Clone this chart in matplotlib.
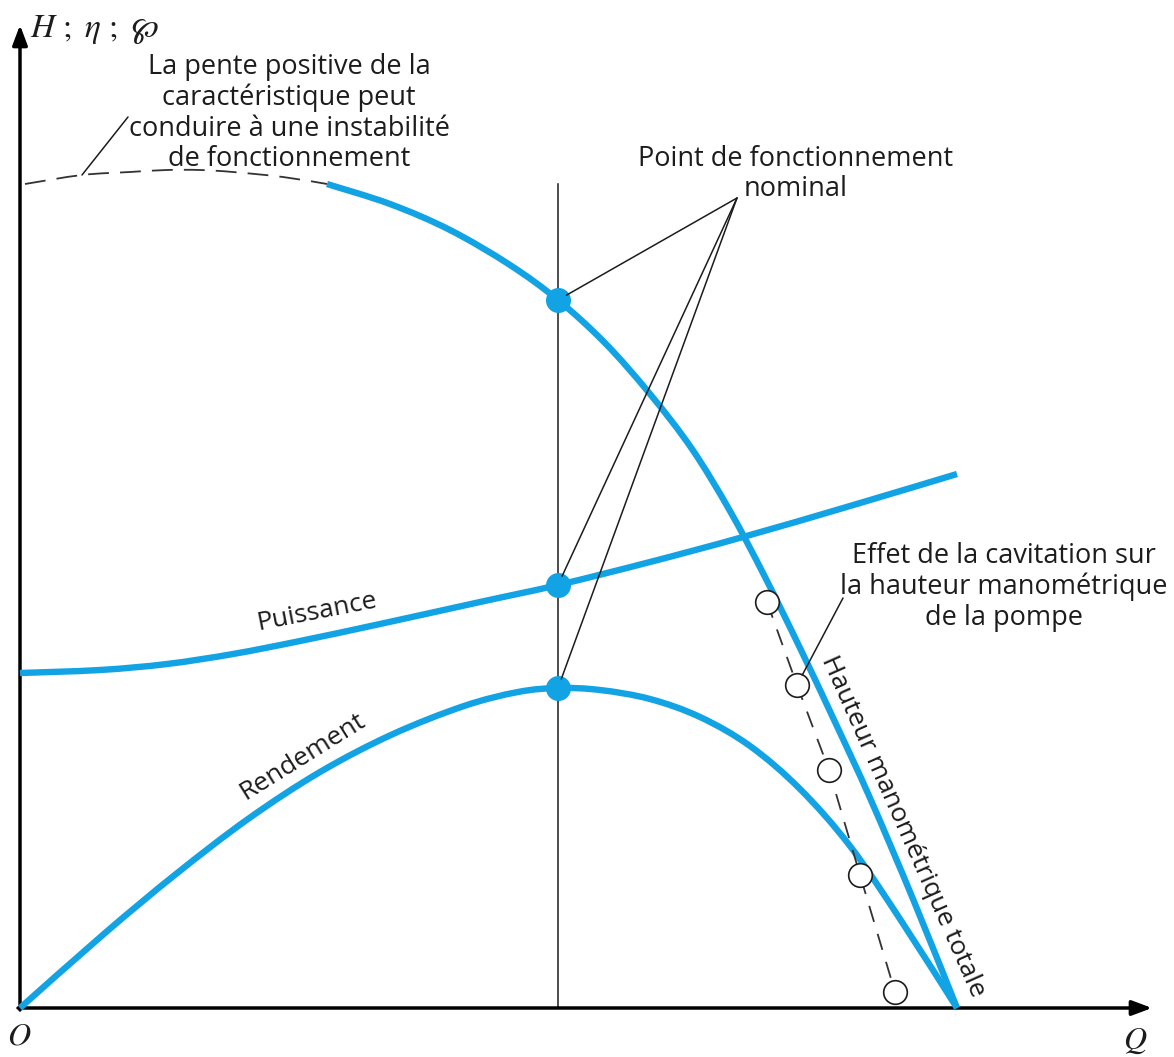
import matplotlib
matplotlib.use("Agg")
import matplotlib.pyplot as plt
from matplotlib.path import Path
from matplotlib.patches import PathPatch

plt.rcParams['mathtext.fontset'] = 'stix'
plt.rcParams['lines.scale_dashes'] = False

# ---------------- data (Q, H units) ----------------
# Head curve: unstable (dashed) rising part and the solid characteristic
q_head_dash = [0.05, 0.62, 1.10, 1.47, 1.80, 2.13, 2.63, 3.07]
h_head_dash = [8.24, 8.33, 8.36, 8.38, 8.38, 8.36, 8.31, 8.24]

q_head = [3.07, 3.70, 4.30, 4.90, 5.38, 5.85, 6.30, 6.72, 7.10, 7.45,
          7.80, 8.15, 8.50, 8.93, 9.37]
h_head = [8.24, 8.04, 7.78, 7.43, 7.08, 6.65, 6.14, 5.59, 4.97, 4.31,
          3.60, 2.86, 2.10, 1.09, 0.00]

# Power curve
q_power = [0.00, 0.80, 1.47, 2.13, 2.80, 3.60, 4.60, 5.38, 6.30, 7.23, 8.30, 9.37]
h_power = [3.35, 3.38, 3.44, 3.54, 3.67, 3.84, 4.06, 4.23, 4.46, 4.71, 5.02, 5.34]

# Efficiency curve
q_eff = [0.00, 0.85, 1.56, 2.28, 3.00, 3.72, 4.44, 4.98, 5.38,
         5.80, 6.30, 6.80, 7.30, 7.80, 8.30, 8.80, 9.37]
h_eff = [0.00, 0.75, 1.34, 1.89, 2.36, 2.735, 3.02, 3.16, 3.20,
         3.18, 3.09, 2.91, 2.62, 2.19, 1.62, 0.89, 0.00]

# Cavitation effect points
q_cav = [7.47, 7.77, 8.09, 8.40, 8.75]
h_cav = [4.06, 3.23, 2.38, 1.33, 0.16]

# Nominal operating point
q_nom = 5.38
h_nom = [7.08, 4.23, 3.20]   # head, power, efficiency

BLUE = '#12A3E4'
INK = '#1c1c1c'
FONT = 'Open Sans'


def P(x, y):
    """pixel position of the reference -> data coordinates (for text placement)"""
    return ((x - 20) / 100.0, (1008 - y) / 100.0)


def smooth_path(xs, ys):
    """Bezier path passing through every data point (Catmull-Rom rendering)."""
    pts = list(zip(xs, ys))
    n = len(pts)
    verts = [pts[0]]
    codes = [Path.MOVETO]
    for i in range(n - 1):
        p0 = pts[i - 1] if i > 0 else pts[i]
        p1 = pts[i]
        p2 = pts[i + 1]
        p3 = pts[i + 2] if i + 2 < n else pts[i + 1]
        c1 = (p1[0] + (p2[0] - p0[0]) / 6.0, p1[1] + (p2[1] - p0[1]) / 6.0)
        c2 = (p2[0] - (p3[0] - p1[0]) / 6.0, p2[1] - (p3[1] - p1[1]) / 6.0)
        verts += [c1, c2, p2]
        codes += [Path.CURVE4] * 3
    return Path(verts, codes)


def curve(ax, xs, ys, **kw):
    patch = PathPatch(smooth_path(xs, ys), fill=False, **kw)
    ax.add_patch(patch)
    return patch


fig = plt.figure(figsize=(11.74, 10.57), dpi=100)
ax = fig.add_axes([0, 0, 1, 1])
ax.set_xlim(-0.20, 11.54)
ax.set_ylim(-0.49, 10.08)
ax.axis('off')

# axes with arrows
ax.annotate('', xy=(0, 9.83), xytext=(0, -0.02),
            arrowprops=dict(arrowstyle='-|>,head_length=1.2,head_width=0.45',
                            lw=2.5, color='black', shrinkA=0, shrinkB=0))
ax.annotate('', xy=(11.32, 0), xytext=(-0.02, 0),
            arrowprops=dict(arrowstyle='-|>,head_length=1.2,head_width=0.45',
                            lw=2.5, color='black', shrinkA=0, shrinkB=0))

# nominal vertical line
ax.plot([q_nom, q_nom], [0, h_head_dash[0]], color=INK, lw=1.1, zorder=2)

# curves
curve(ax, q_head_dash, h_head_dash, edgecolor='#333333', lw=1.3,
      linestyle=(0, (15, 8)), zorder=3)
for xs, ys in [(q_head, h_head), (q_power, h_power), (q_eff, h_eff)]:
    curve(ax, xs, ys, edgecolor=BLUE, lw=4.6, capstyle='butt',
          joinstyle='round', zorder=4)

# nominal points
ax.plot([q_nom] * len(h_nom), h_nom, 'o', color=BLUE, ms=17, mec=BLUE, zorder=6)

# cavitation points
ax.plot(q_cav, h_cav, color='#333333', lw=1.3, dashes=(12, 9), zorder=5)
ax.plot(q_cav, h_cav, 'o', ms=17, mfc='white', mec=INK, mew=1.2,
        linestyle='none', zorder=6)

# leader lines
lead = dict(arrowstyle='-', lw=1.1, color=INK, shrinkA=0)
for h in h_nom:
    ax.annotate('', xy=(q_nom, h), xytext=P(737, 198),
                arrowprops=dict(lead, shrinkB=7), zorder=7)
ax.annotate('', xy=(q_head_dash[1], h_head_dash[1]), xytext=P(128, 117),
            arrowprops=dict(lead, shrinkB=0), zorder=7)
ax.annotate('', xy=(q_cav[1], h_cav[1]), xytext=P(843, 598),
            arrowprops=dict(lead, shrinkB=8), zorder=7)

# texts
tkw = dict(family=FONT, fontsize=19.5, color=INK, ha='center', va='center',
           multialignment='center', linespacing=1.12)
ax.text(*P(289, 113), "La pente positive de la\ncaractéristique peut\n"
        "conduire à une instabilité\nde fonctionnement", **tkw)
ax.text(*P(796, 174), "Point de fonctionnement\nnominal", **tkw)
ax.text(*P(1004, 587), "Effet de la cavitation sur\nla hauteur manométrique\n"
        "de la pompe", **tkw)

rkw = dict(family=FONT, fontsize=19, color=INK, ha='center', va='center',
           rotation_mode='anchor')
ax.text(*P(317, 612), "Puissance", rotation=11, **rkw)
ax.text(*P(303, 757), "Rendement", rotation=32, **rkw)
ax.text(*P(903, 826), "Hauteur manométrique totale", rotation=-66, **rkw)

ax.text(*P(30, 37), r'$H\ ;\ \eta\ ;\ \wp$', fontsize=24, color=INK,
        ha='left', va='baseline')
ax.text(*P(19, 1036), r'$O$', fontsize=23, color=INK, ha='center', va='center')
ax.text(*P(1135, 1040), r'$Q$', fontsize=23, color=INK, ha='center', va='center')

fig.savefig('out.png', dpi=100)
